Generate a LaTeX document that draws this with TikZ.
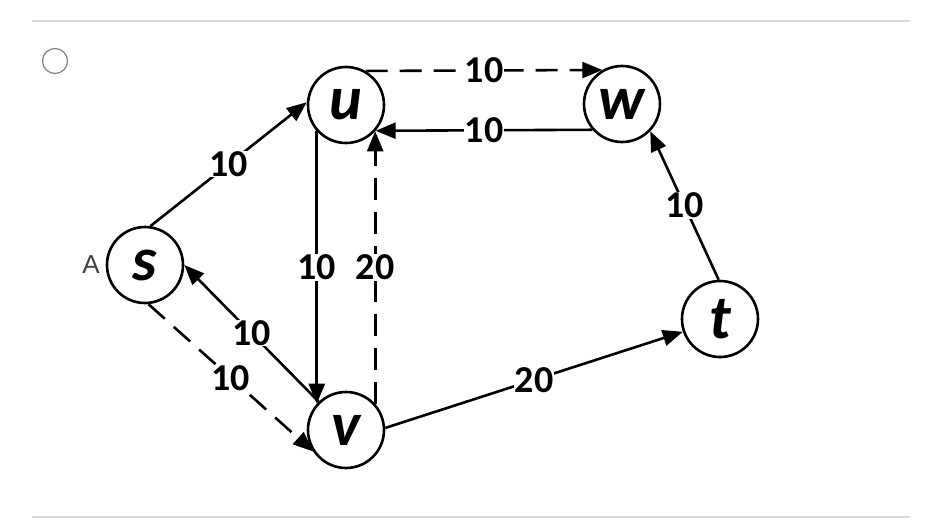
\documentclass[tikz,border=0pt]{standalone}
\usepackage{fontspec}
\setmainfont{Carlito}
\newfontfamily\choixfont{Liberation Sans}
\usetikzlibrary{arrows.meta}

\begin{document}
\begin{tikzpicture}[x=1pt,y=-1pt,
	sommet/.style={circle,draw,line width=2.6pt,minimum size=76pt,inner sep=0pt,
		font=\fontsize{62}{66}\selectfont\bfseries\itshape},
	arc/.style={line width=2.6pt,-{Triangle[length=20pt,width=16pt]}},
	pointille/.style={arc,dash pattern=on 22pt off 12pt},
	poids/.style={fill=white,inner sep=0.5pt,font=\fontsize{38}{40}\selectfont\bfseries},
	regle/.style={draw=black!15,line width=2pt}]
					\useasboundingbox (0,0) rectangle (930,532);
					
					%LIGNES
					\draw[regle] (32,21) -- (910,21);
					\draw[regle] (32,517) -- (910,517);
					%CHOIX A
					\node[circle,draw=black!50,line width=1.2pt,minimum size=25pt,inner sep=0pt] (radio) at (55,61) {};
					\node[font=\choixfont\fontsize{26}{28}\selectfont,text=black!75] (choix) at (91,265) {A};
					
					%SOMMETS
					\node[sommet] (s) at (145,265) {s};
					\node[sommet] (u) at (346,105) {u};
					\node[sommet] (w) at (622,104) {w};
					\node[sommet] (t) at (720,319) {t};
					\node[sommet] (v) at (346,430) {v};
					
					%ARCS
					\draw[arc] (s.82) -- node[poids] {10} (u.176);
					\draw[pointille] (u.60) -- node[poids] {10} (w.120);
					\draw[arc] (w.221) -- node[poids] {10} (u.-41);
					\draw[arc] (u.222) -- node[poids] {10} (v.138);
					\draw[pointille] (v.42) -- node[poids] {20} (u.-42);
					\draw[arc] (v.134) -- node[poids] {10} (s.east);
					\draw[pointille] (s.-85) -- node[poids] {10} (v.213);
					\draw[arc] (v.3) -- node[poids] {20} (t.199);
					\draw[arc] (t.92) -- node[poids] {10} (w.-44);
					
\end{tikzpicture}
\end{document}
